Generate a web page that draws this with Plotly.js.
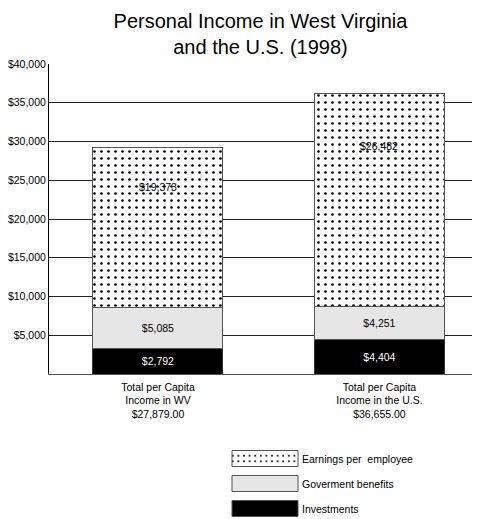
<!DOCTYPE html>
<html>
<head>
<meta charset="utf-8">
<script src="https://cdn.plot.ly/plotly-3.0.1.min.js"></script>
<style>html,body{margin:0;padding:0;background:#fff;}#chart{width:482px;height:519px;}</style>
</head>
<body>
<div id="chart"></div>
<script>
// Categories (x axis tick labels)
var categories = ['Total per Capita<br>Income in WV<br>$27,879.00', 'Total per Capita<br>Income in the U.S.<br>$36,655.00'];
// Segment heights as drawn in the picture
var investments = [3355, 4516];
var govBenefits = [5290, 4258];
var earnings = [20645, 27484];
// Segment labels as printed
var investmentsLabels = ['$2,792', '$4,404'];
var govBenefitsLabels = ['$5,085', '$4,251'];
var earningsLabels = ['$19,373', '$26,482'];
// Y tick labels
var yTickVals = [5000, 10000, 15000, 20000, 25000, 30000, 35000, 40000];
var yTickText = ['$5,000', '$10,000', '$15,000', '$20,000', '$25,000', '$30,000', '$35,000', '$40,000'];

var font = 'Liberation Sans, Arial, sans-serif';
var fs = 10.5;

var traces = [
  {
    type: 'bar', name: 'Investments', x: categories, y: investments,
    text: investmentsLabels, textposition: 'inside', insidetextanchor: 'middle', textangle: 0,
    textfont: {color: '#ffffff', size: fs, family: font},
    marker: {color: '#000000', line: {color: '#333333', width: 1}},
    width: 0.587, legendrank: 3, legendgroup: 'c', hoverinfo: 'skip'
  },
  {
    type: 'bar', name: 'Goverment benefits', x: categories, y: govBenefits,
    text: govBenefitsLabels, textposition: 'inside', insidetextanchor: 'middle', textangle: 0,
    textfont: {color: '#000000', size: fs, family: font},
    marker: {color: '#e6e6e6', line: {color: '#555555', width: 1}},
    width: 0.587, legendrank: 2, legendgroup: 'b', hoverinfo: 'skip'
  },
  {
    type: 'bar', name: 'Earnings per  employee', x: categories, y: earnings,
    textposition: 'none',
    marker: {color: '#ffffff', line: {color: '#555555', width: 1},
      pattern: {shape: '.', fgcolor: '#000000', bgcolor: '#ffffff', size: 7, solidity: 0.11}},
    width: 0.587, legendrank: 1, legendgroup: 'a', hoverinfo: 'skip'
  }
];

var annotations = earnings.map(function (v, i) {
  return {
    xref: 'x', yref: 'y', x: categories[i],
    y: investments[i] + govBenefits[i] + 0.75 * v,
    text: earningsLabels[i], showarrow: false,
    font: {size: fs, color: '#000000', family: font}
  };
});

var layout = {
  width: 482, height: 519,
  margin: {l: 49, r: 10, t: 64, b: 145, pad: 0, autoexpand: false},
  paper_bgcolor: '#ffffff', plot_bgcolor: '#ffffff',
  font: {family: font, color: '#000000', size: fs},
  title: {
    text: 'Personal Income in West Virginia<br>and the U.S. (1998)',
    font: {size: 20, family: font, color: '#000000'},
    x: 0.5, xref: 'paper', y: 0.947, yref: 'container', yanchor: 'top', automargin: false
  },
  barmode: 'stack',
  showlegend: true,
  legend: {
    xref: 'container', yref: 'container', x: 230 / 482, y: 1 - 444 / 519,
    xanchor: 'left', yanchor: 'top', traceorder: 'grouped',
    tracegroupgap: 6, itemwidth: 62, bgcolor: 'rgba(0,0,0,0)',
    font: {size: fs, family: font, color: '#000000'}, itemclick: false, itemdoubleclick: false
  },
  xaxis: {
    type: 'category', range: [-0.492, 1.418], showgrid: false, automargin: false,
    showline: true, linecolor: '#555555', linewidth: 1, ticks: '', tickangle: 0,
    ticklabelstandoff: 3,
    tickfont: {size: fs, family: font, color: '#000000'}, fixedrange: true
  },
  yaxis: {
    range: [0, 40000], tickvals: yTickVals, ticktext: yTickText, automargin: false,
    showgrid: true, gridcolor: '#222222', gridwidth: 1,
    showline: true, linecolor: '#000000', linewidth: 1, ticks: '',
    zeroline: false, tickfont: {size: fs, family: font, color: '#000000'}, fixedrange: true
  },
  annotations: annotations
};

function bigSwatches() {
  var paths = document.querySelectorAll('#chart .legend .legendpoints path');
  paths.forEach(function (p) {
    p.setAttribute('d', 'M68,8H2V-8H68Z');
    p.setAttribute('transform', 'translate(0,0)');
    p.style.stroke = '#555555';
    p.style.strokeWidth = '1px';
  });
}

Plotly.newPlot('chart', traces, layout, {staticPlot: true, displayModeBar: false}).then(function (gd) {
  bigSwatches();
  gd.on('plotly_afterplot', bigSwatches);
});
</script>
</body>
</html>
